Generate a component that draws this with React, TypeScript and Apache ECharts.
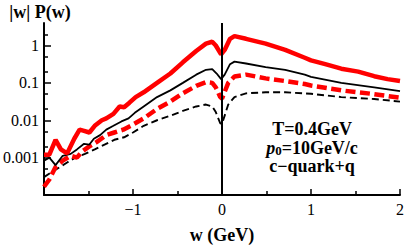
import React, { useEffect, useRef } from 'react';
import * as echarts from 'echarts';

// Red thick solid
const redSolidX = [-2.0, -1.94, -1.87, -1.81, -1.74, -1.66, -1.6, -1.55, -1.49, -1.43, -1.35, -1.3, -1.22, -1.15, -1.1, -1.04, -0.97, -0.88, -0.73, -0.58, -0.44, -0.29, -0.18, -0.11, -0.07, -0.01, 0.03, 0.09, 0.14, 0.27, 0.49, 0.71, 0.93, 1.0, 1.16, 1.34, 1.53, 1.71, 1.86, 2.0];
const redSolidY = [0.0012, 0.0012, 0.003, 0.00166, 0.0013, 0.0032, 0.0056, 0.0052, 0.0047, 0.0071, 0.01, 0.0112, 0.0148, 0.0234, 0.0224, 0.0295, 0.0417, 0.056, 0.1, 0.178, 0.355, 0.71, 1.12, 1.26, 1.0, 0.58, 0.76, 1.51, 1.78, 1.51, 1.12, 0.76, 0.47, 0.4, 0.316, 0.24, 0.2, 0.151, 0.126, 0.112];

// Black thin solid
const blackSolidX = [-2.0, -1.94, -1.87, -1.79, -1.7, -1.63, -1.55, -1.49, -1.44, -1.37, -1.3, -1.22, -1.13, -1.05, -0.98, -0.88, -0.73, -0.58, -0.44, -0.29, -0.18, -0.11, -0.06, -0.01, 0.03, 0.09, 0.14, 0.27, 0.49, 0.71, 0.93, 1.0, 1.34, 1.71, 2.0];
const blackSolidY = [0.00083, 0.001, 0.00063, 0.00112, 0.00126, 0.00166, 0.00234, 0.00224, 0.0032, 0.004, 0.0056, 0.0071, 0.0093, 0.0112, 0.0158, 0.0234, 0.0417, 0.063, 0.1, 0.166, 0.224, 0.234, 0.178, 0.126, 0.166, 0.316, 0.37, 0.33, 0.263, 0.224, 0.166, 0.145, 0.1, 0.076, 0.06];

// Red thick dashed
const redDashX = [-2.0, -1.94, -1.87, -1.79, -1.7, -1.63, -1.57, -1.49, -1.41, -1.3, -1.21, -1.11, -1.02, -0.88, -0.73, -0.58, -0.44, -0.29, -0.18, -0.11, -0.07, -0.02, 0.0, 0.07, 0.14, 0.27, 0.49, 0.71, 0.93, 1.0, 1.34, 1.71, 2.0];
const redDashY = [0.000166, 0.00026, 0.00056, 0.00083, 0.00112, 0.001, 0.00148, 0.002, 0.0026, 0.004, 0.0047, 0.0056, 0.0072, 0.0112, 0.02, 0.0316, 0.0525, 0.083, 0.105, 0.1, 0.076, 0.042, 0.038, 0.1, 0.148, 0.166, 0.132, 0.112, 0.093, 0.085, 0.063, 0.05, 0.04];

// Black thin dashed
const blackDashX = [-2.0, -1.92, -1.82, -1.74, -1.65, -1.54, -1.43, -1.32, -1.21, -1.1, -1.0, -0.88, -0.73, -0.58, -0.44, -0.29, -0.18, -0.11, -0.07, -0.02, 0.0, 0.07, 0.14, 0.27, 0.49, 0.71, 1.0, 1.34, 1.71, 2.0];
const blackDashY = [0.0003, 0.0004, 0.00056, 0.00074, 0.001, 0.00126, 0.00166, 0.00224, 0.003, 0.0035, 0.0047, 0.0071, 0.01, 0.0132, 0.0178, 0.0234, 0.0263, 0.0234, 0.0166, 0.0083, 0.008, 0.0263, 0.0417, 0.0525, 0.056, 0.056, 0.051, 0.0417, 0.037, 0.0316];

const yMajorTicks = [0.0001, 0.001, 0.01, 0.1, 1];
const yLabelTicks = [0.001, 0.01, 0.1, 1];
const yMinorTicks = [2, 0.5, 0.2, 0.05, 0.02, 0.005, 0.002, 0.0005, 0.0002];
const xLabelHidden = [-2];

const zip = (xs: number[], ys: number[]) => xs.map((x, i) => [x, ys[i]]);

const FONT = '"Liberation Serif", "Times New Roman", serif';

export default function App() {
  const ref = useRef<HTMLDivElement>(null);
  useEffect(() => {
    if (!ref.current) return;
    const chart = echarts.init(ref.current, null, { renderer: 'svg' });
    const yLabel = (v: number) => {
      const e = Math.round(Math.log10(v));
      if (e >= 0) return '1';
      return '0.' + '0'.repeat(-e - 1) + '1';
    };
    chart.setOption({
      animation: false,
      textStyle: { fontFamily: FONT },
      grid: { left: 40, right: 4, top: 23, bottom: 42, containLabel: false },
      xAxis: {
        type: 'value',
        min: -2,
        max: 2,
        interval: 1,
        name: 'w (GeV)',
        nameLocation: 'middle',
        nameGap: 31,
        nameTextStyle: { fontFamily: FONT, fontWeight: 'bold', fontSize: 18, color: '#000' },
        axisLine: { show: true, onZero: false, lineStyle: { color: '#000', width: 2 } },
        axisTick: { show: true, inside: true, length: 6, lineStyle: { color: '#000', width: 1.5 } },
        minorTick: { show: true, splitNumber: 2, length: 4, lineStyle: { color: '#000', width: 1.5 } },
        axisLabel: {
          margin: 6,
          fontFamily: FONT,
          fontSize: 16,
          color: '#000',
          formatter: (v: number) => (xLabelHidden.includes(v) ? '' : v < 0 ? '\u2212' + Math.abs(v) : String(v)),
        },
        splitLine: { show: false },
        minorSplitLine: { show: false },
      },
      yAxis: [
        {
          type: 'log',
          logBase: 10,
          min: 0.0001,
          max: 4,
          position: 'left',
          axisLine: { show: true, onZero: false, lineStyle: { color: '#000', width: 2 } },
          axisTick: { show: true, inside: true, length: 7, customValues: yMajorTicks, lineStyle: { color: '#000', width: 1.5 } },
          axisLabel: { margin: 5, fontFamily: FONT, fontSize: 16, color: '#000', customValues: yLabelTicks, formatter: yLabel },
          splitLine: { show: false },
        },
        {
          type: 'log',
          logBase: 10,
          min: 0.0001,
          max: 4,
          position: 'left',
          axisLine: { show: false, onZero: false },
          axisTick: { show: true, inside: true, length: 4, customValues: yMinorTicks, lineStyle: { color: '#000', width: 1.5 } },
          axisLabel: { show: false },
          splitLine: { show: false },
        },
      ],
      series: [
        {
          type: 'line',
          data: zip(blackDashX, blackDashY),
          symbol: 'none',
          lineStyle: { color: '#000', width: 1.9, type: [7, 4] },
          markLine: {
            silent: true,
            symbol: 'none',
            label: { show: false },
            lineStyle: { color: '#000', width: 2, type: 'solid' },
            data: [{ xAxis: 0 }],
          },
        },
        {
          type: 'line',
          data: zip(redDashX, redDashY),
          symbol: 'none',
          lineStyle: { color: '#ff0000', width: 4.5, type: [10, 4.5] },
        },
        {
          type: 'line',
          data: zip(blackSolidX, blackSolidY),
          symbol: 'none',
          lineStyle: { color: '#000', width: 1.8 },
        },
        {
          type: 'line',
          data: zip(redSolidX, redSolidY),
          symbol: 'none',
          lineStyle: { color: '#ff0000', width: 4.5 },
        },
      ],
      graphic: [
        {
          type: 'text',
          x: 40,
          y: 12,
          style: { text: '|w| P(w)', fill: '#000', font: `bold 18px ${FONT}`, textAlign: 'center', textVerticalAlign: 'middle' },
        },
        {
          type: 'text',
          x: 312,
          y: 129,
          style: { text: 'T=0.4GeV', fill: '#000', font: `bold 18px ${FONT}`, textAlign: 'center', textVerticalAlign: 'middle' },
        },
        {
          type: 'text',
          x: 312,
          y: 148,
          style: {
            text: '{p|p}{s|0}{n|=10GeV/c}',
            fill: '#000',
            textAlign: 'center',
            textVerticalAlign: 'middle',
            rich: {
              p: { fontFamily: FONT, fontWeight: 'bold', fontStyle: 'italic', fontSize: 18, lineHeight: 17 },
              s: { fontFamily: FONT, fontWeight: 'bold', fontSize: 13, lineHeight: 11, verticalAlign: 'bottom' },
              n: { fontFamily: FONT, fontWeight: 'bold', fontSize: 18, lineHeight: 17 },
            },
          },
        },
        {
          type: 'text',
          x: 312,
          y: 166,
          style: { text: 'c\u2212quark+q', fill: '#000', font: `bold 18px ${FONT}`, textAlign: 'center', textVerticalAlign: 'middle' },
        },
      ],
    });
    return () => chart.dispose();
  }, []);
  return <div ref={ref} style={{ width: 407, height: 249, position: 'absolute', left: 0, top: 0 }} />;
}
